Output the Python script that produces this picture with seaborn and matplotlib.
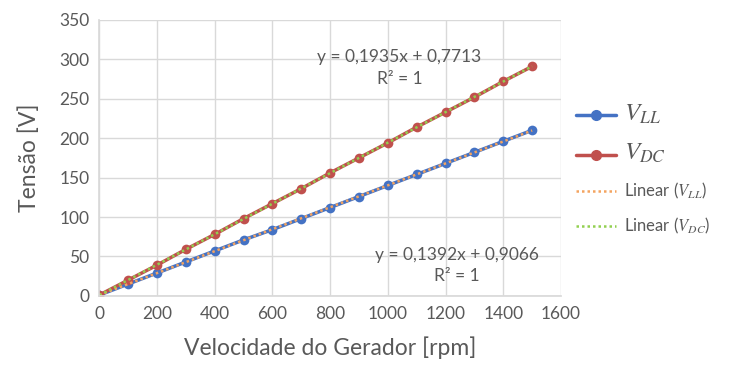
import numpy as np
import pandas as pd
import seaborn as sns
import matplotlib.pyplot as plt
from matplotlib.lines import Line2D

# values
rpm = [0, 100, 200, 300, 400, 500, 600, 700, 800, 900, 1000, 1100, 1200, 1300, 1400, 1500]
v_ll = [1, 15, 29, 43, 57, 71, 84, 98, 112, 126, 140, 154, 168, 182, 196, 210]
v_dc = [1, 20, 39, 59, 78, 98, 117, 136, 156, 175, 194, 214, 233, 252, 272, 291]

eq_dc = "y = 0,1935x + 0,7713\nR² = 1"
eq_ll = "y = 0,1392x + 0,9066\nR² = 1"

df = pd.DataFrame({"rpm": rpm, "VLL": v_ll, "VDC": v_dc})

sns.set_theme(style="whitegrid")
plt.rcParams["font.family"] = ["Lato", "DejaVu Sans"]
plt.rcParams["mathtext.fontset"] = "stix"

gray = "#595959"
blue = "#4472C4"
red = "#C0504D"
orange = "#F4A460"
green = "#92D050"

fig = plt.figure(figsize=(7.52, 3.68), dpi=100)
ax = fig.add_axes([0.132, 0.196, 0.614, 0.75])

sns.lineplot(data=df, x="rpm", y="VLL", ax=ax, color=blue, lw=2.5,
             marker="o", markersize=7, markeredgewidth=0)
sns.lineplot(data=df, x="rpm", y="VDC", ax=ax, color=red, lw=2.5,
             marker="o", markersize=7, markeredgewidth=0)

# trendlines
sns.regplot(data=df, x="rpm", y="VLL", ax=ax, scatter=False, ci=None,
            line_kws=dict(color=orange, lw=1.8, ls=(0, (1, 1.2))))
sns.regplot(data=df, x="rpm", y="VDC", ax=ax, scatter=False, ci=None,
            line_kws=dict(color=green, lw=1.8, ls=(0, (1, 1.2))))

ax.text(1040, 289, eq_dc, ha="center", va="center", fontsize=12.5,
        color=gray, linespacing=1.4)
ax.text(1240, 39, eq_ll, ha="center", va="center", fontsize=12.5,
        color=gray, linespacing=1.4)

ax.set_xlim(0, 1600)
ax.set_ylim(0, 350)
ax.set_xticks(range(0, 1601, 200))
ax.set_yticks(range(0, 351, 50))
ax.tick_params(colors=gray, labelsize=12.5, length=0, pad=7)
ax.grid(True, color="#D9D9D9", lw=1)
for s in ["top", "right"]:
    ax.spines[s].set_visible(False)
for s in ["left", "bottom"]:
    ax.spines[s].set_color("#D9D9D9")

ax.set_xlabel("Velocidade do Gerador [rpm]", fontsize=16.5, color=gray, labelpad=11)
ax.set_ylabel("Tensão [V]", fontsize=16.5, color=gray, labelpad=14)

handles = [
    Line2D([], [], color=blue, lw=2.5, marker="o", markersize=7),
    Line2D([], [], color=red, lw=2.5, marker="o", markersize=7),
    Line2D([], [], color=orange, lw=1.8, ls=(0, (1, 1.2))),
    Line2D([], [], color=green, lw=1.8, ls=(0, (1, 1.2))),
]
labels = ["$V_{LL}$", "$V_{DC}$", "Linear ($V_{LL}$)", "Linear ($V_{DC}$)"]
leg = ax.legend(handles, labels, loc="center left", bbox_to_anchor=(1.02, 0.46),
                frameon=False, handlelength=2.6, labelspacing=1.0,
                handletextpad=0.5, borderaxespad=0)
sizes = [18, 18, 12, 12]
for t, sz in zip(leg.get_texts(), sizes):
    t.set_fontsize(sz)
    t.set_color(gray)

plt.savefig("out.png", dpi=100)
